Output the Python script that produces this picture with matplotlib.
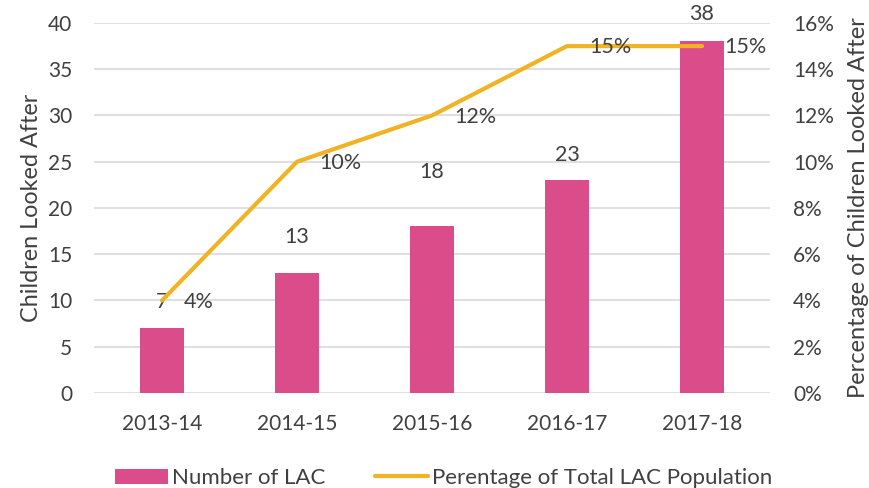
import matplotlib.pyplot as plt
from matplotlib.ticker import FuncFormatter

years = ['2013-14', '2014-15', '2015-16', '2016-17', '2017-18']
lac_counts = [7, 13, 18, 23, 38]
lac_pct = [4, 10, 12, 15, 15]

BAR_COLOR = '#DB4C8A'
LINE_COLOR = '#F0B323'
TEXT = '#404040'
GRID = '#D9D9D9'

plt.rcParams.update({
    'font.family': ['Lato', 'DejaVu Sans'],
    'font.size': 15,
    'text.color': TEXT,
})

fig = plt.figure(figsize=(8.7, 4.88), dpi=100)
ax = fig.add_axes([0.1086, 0.1947, 0.7759, 0.7582])
ax2 = ax.twinx()

x = list(range(len(years)))
ax.bar(x, lac_counts, width=0.33, color=BAR_COLOR, zorder=2, label='Number of LAC')
ax2.plot(x, lac_pct, color=LINE_COLOR, lw=3, solid_capstyle='round',
         zorder=3, label='Perentage of Total LAC Population')

# bar labels, some nudged up by hand like the original
bar_offsets = [19, 26, 39, 18, 20]
for xi, v, off in zip(x, lac_counts, bar_offsets):
    ax.annotate(str(v), (xi, v), xytext=(0, off), textcoords='offset points',
                ha='center', va='center', fontsize=15.5, color=TEXT)

for xi, v in zip(x, lac_pct):
    ax2.annotate(f'{v}%', (xi, v), xytext=(16, -1), textcoords='offset points',
                 ha='left', va='center', fontsize=15.5, color=TEXT)

ax.set_xlim(-0.5, 4.5)
ax.set_ylim(0, 40)
ax.set_yticks(range(0, 41, 5))
ax2.set_ylim(0, 16)
ax2.set_yticks(range(0, 17, 2))
ax2.yaxis.set_major_formatter(FuncFormatter(lambda v, _: f'{v:.0f}%'))
ax.set_xticks(x)
ax.set_xticklabels(years)

ax.grid(axis='y', color=GRID, lw=1.2, zorder=0)
ax.set_axisbelow(True)
for a in (ax, ax2):
    for s in a.spines.values():
        s.set_visible(False)
    a.tick_params(length=0, colors=TEXT, labelsize=15)
ax.tick_params(axis='y', pad=16)
ax2.tick_params(axis='y', pad=17)
ax.tick_params(axis='x', pad=15)

ax.set_ylabel('Children Looked After', fontsize=16.8, color=TEXT, labelpad=4)
ax2.set_ylabel('Percentage of Children Looked After', fontsize=17, color=TEXT,
               labelpad=10)

h1, l1 = ax.get_legend_handles_labels()
h2, l2 = ax2.get_legend_handles_labels()
fig.legend(h1 + h2, l1 + l2, loc='center', bbox_to_anchor=(0.51, 0.02),
           ncol=2, frameon=False, fontsize=16, handlelength=2.4,
           handletextpad=0.2, columnspacing=2.2)

fig.savefig('out.png', dpi=100)
